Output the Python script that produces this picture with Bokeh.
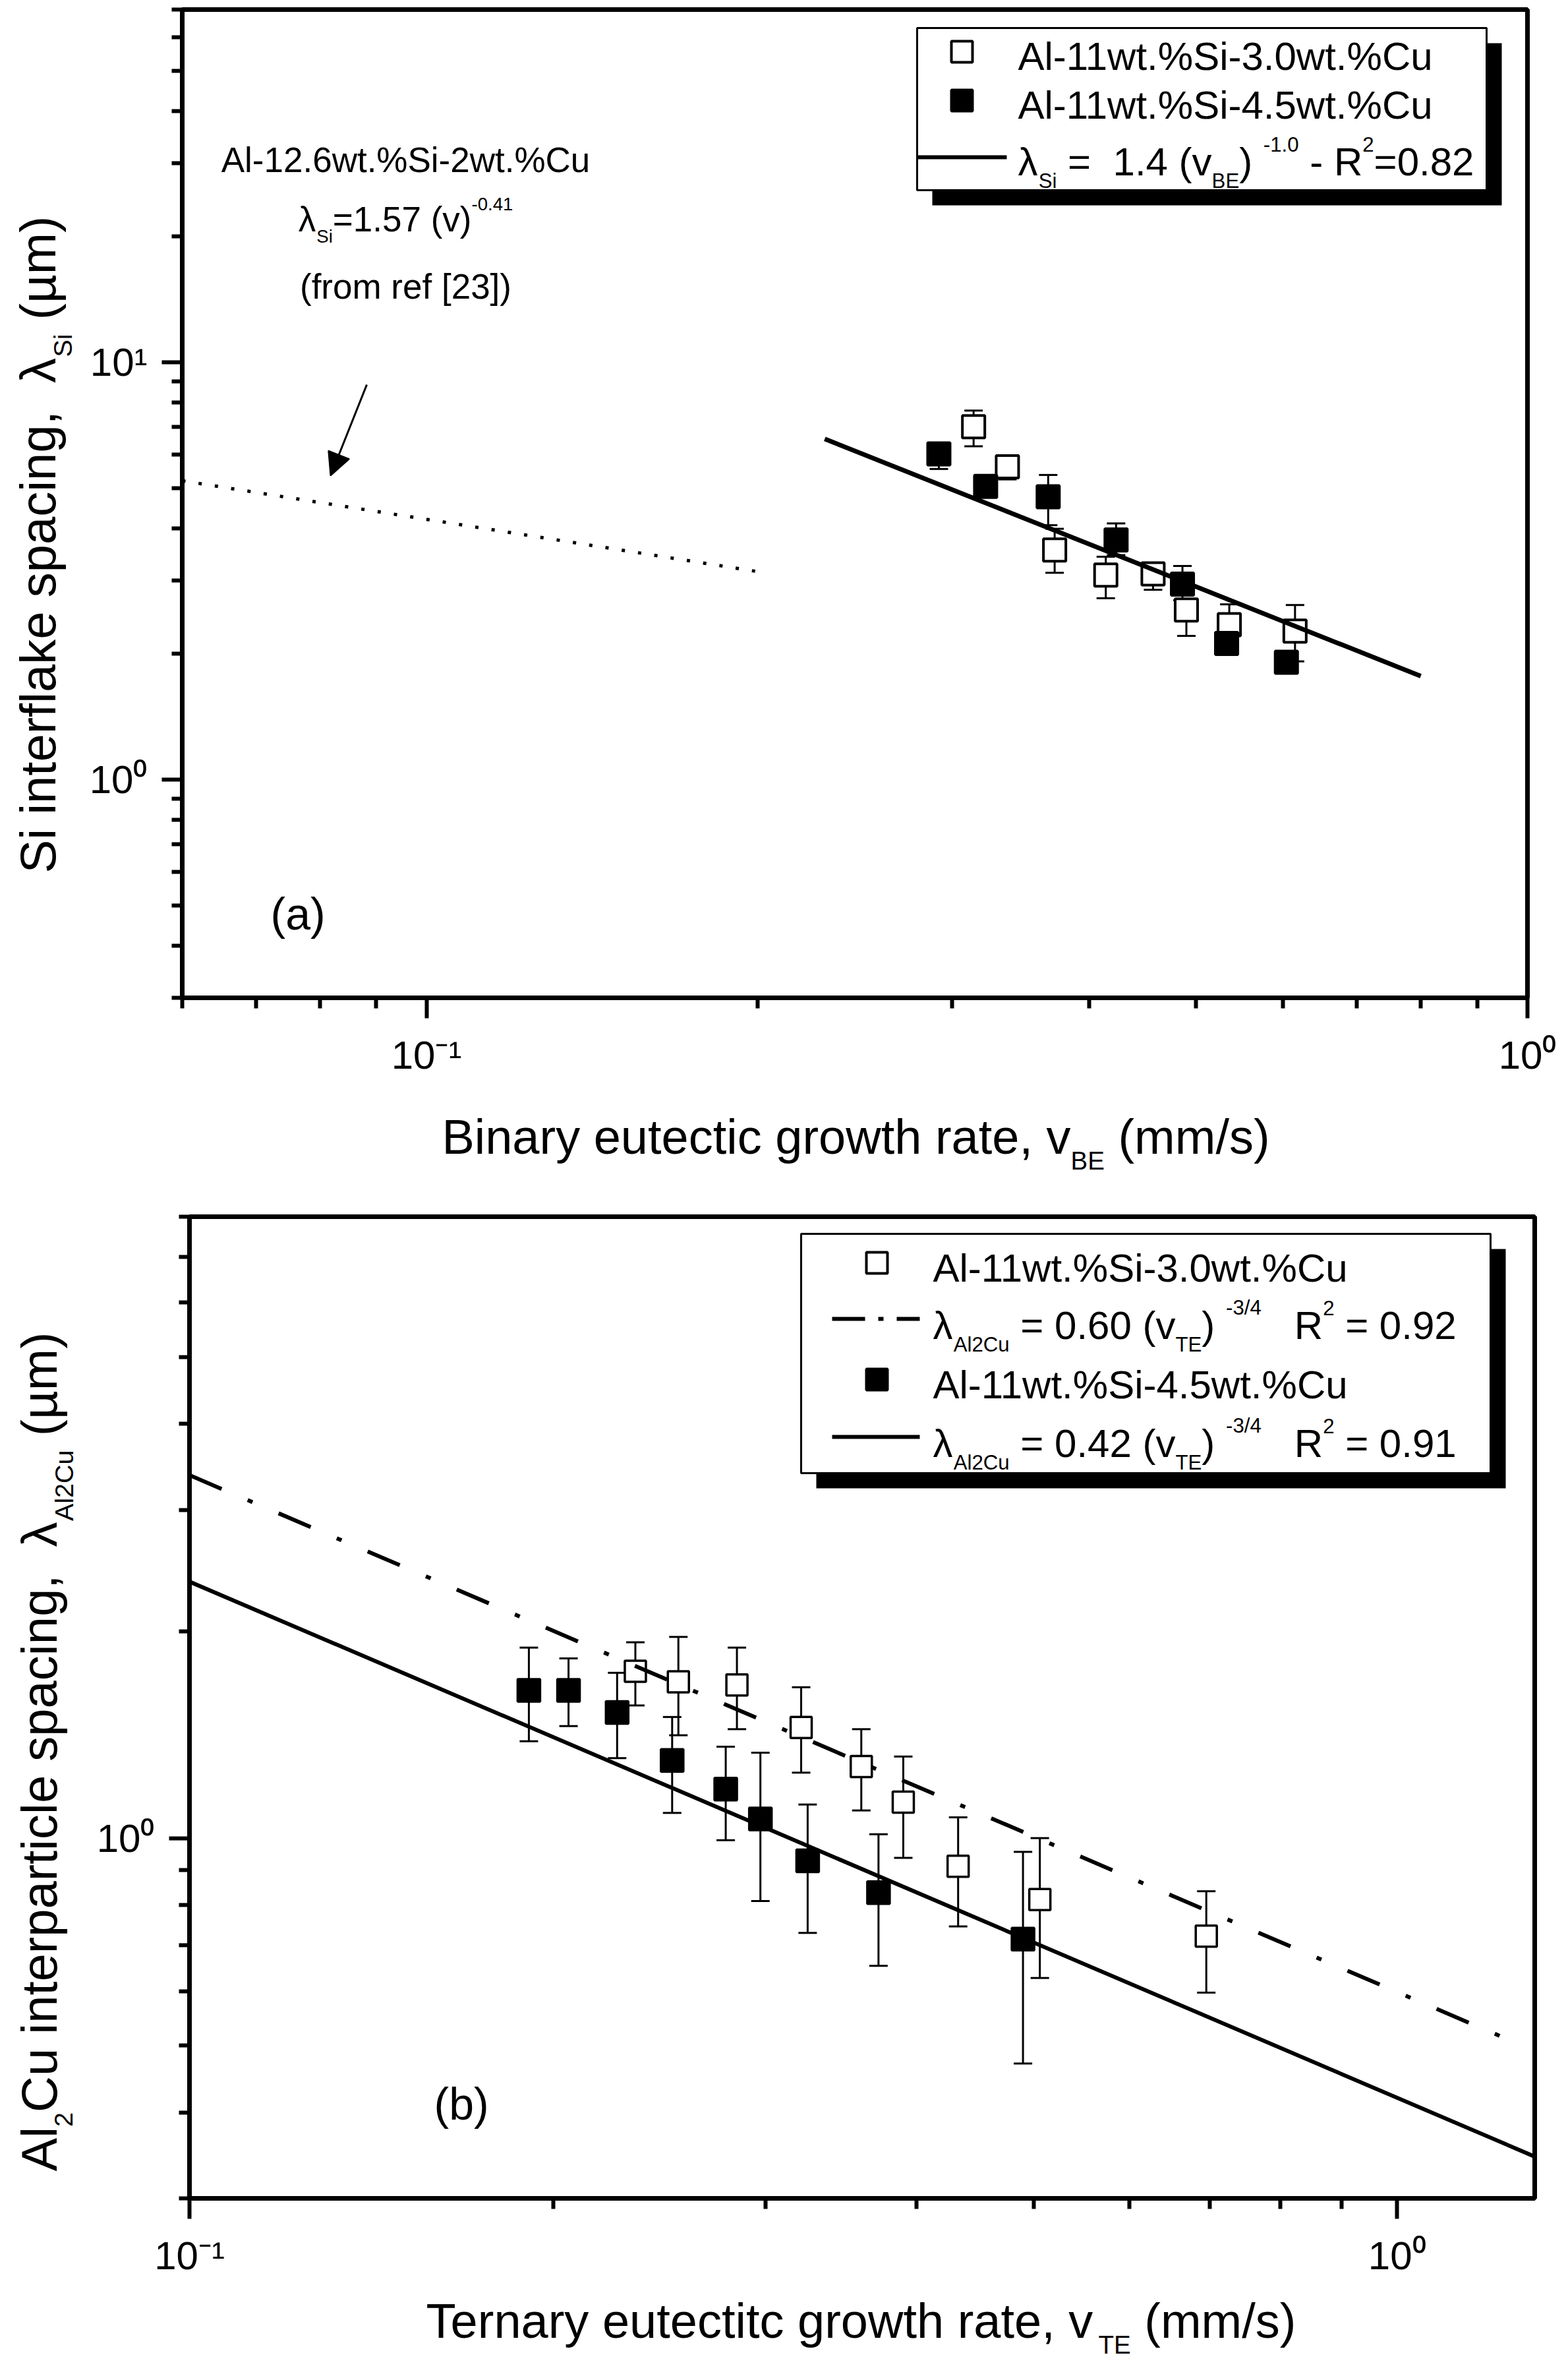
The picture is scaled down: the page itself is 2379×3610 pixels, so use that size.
import math
import re
from bokeh.plotting import figure
from bokeh.models import Range1d, FixedTicker, Label, Arrow, NormalHead
from bokeh.layouts import column, row
from bokeh.embed import file_html
from bokeh.resources import INLINE

# ---------------- data ----------------
# panel (a): Si interflake spacing vs binary eutectic growth rate
a_open_x = [0.314, 0.337, 0.372, 0.414, 0.457, 0.490, 0.536, 0.615]
a_open_y = [7.01, 5.62, 3.55, 3.09, 3.11, 2.55, 2.35, 2.27]
a_open_lo = [6.29, 5.24, 3.13, 2.72, 2.85, 2.21, 2.00, 1.92]
a_open_hi = [7.66, 5.89, 3.99, 3.42, 3.31, 2.69, 2.63, 2.62]

a_fill_x = [0.292, 0.322, 0.367, 0.423, 0.486, 0.533, 0.604]
a_fill_y = [6.03, 5.04, 4.76, 3.75, 2.94, 2.12, 1.91]
a_fill_lo = [5.55, 4.76, 4.07, 3.45, 2.69, 2.00, 1.80]
a_fill_hi = [6.40, 5.32, 5.37, 4.11, 3.25, 2.22, 2.02]

a_fit_x = [0.23, 0.80]
a_fit_y = [6.55, 1.77]
a_ref_x = [0.06, 0.20]
a_ref_y = [5.2, 3.15]

# panel (b): Al2Cu interparticle spacing vs ternary eutectic growth rate
b_open_x = [0.234, 0.254, 0.284, 0.321, 0.360, 0.390, 0.433, 0.506, 0.695]
b_open_y = [1.749, 1.688, 1.671, 1.449, 1.272, 1.129, 0.911, 0.815, 0.721]
b_open_lo = [1.560, 1.412, 1.441, 1.246, 1.098, 0.937, 0.745, 0.627, 0.597]
b_open_hi = [1.927, 1.962, 1.893, 1.658, 1.441, 1.315, 1.073, 1.001, 0.838]

b_fill_x = [0.191, 0.206, 0.226, 0.251, 0.278, 0.297, 0.325, 0.372, 0.490]
b_fill_y = [1.641, 1.641, 1.524, 1.298, 1.179, 1.067, 0.928, 0.834, 0.714]
b_fill_lo = [1.384, 1.456, 1.308, 1.089, 0.994, 0.811, 0.729, 0.653, 0.471]
b_fill_hi = [1.893, 1.826, 1.740, 1.501, 1.359, 1.332, 1.120, 1.014, 0.956]

b_fit30_x = [0.10, 1.27]
b_fit30_y = [3.37, 0.50]
b_fit45_x = [0.10, 1.30]
b_fit45_y = [2.36, 0.345]

# axis ranges and ticks
a_xr = (0.06, 1.0)
a_yr = (0.3, 70.0)
a_xmajor = [0.1, 1.0]
a_xminor = [0.06, 0.07, 0.08, 0.09, 0.2, 0.3, 0.4, 0.5, 0.6, 0.7, 0.8, 0.9]
a_ymajor = [1.0, 10.0]
a_yminor = [0.3, 0.4, 0.5, 0.6, 0.7, 0.8, 0.9, 2, 3, 4, 5, 6, 7, 8, 9, 20, 30, 40, 50, 60, 70]

b_xr = (0.1, 1.3)
b_yr = (0.3, 8.0)
b_xmajor = [0.1, 1.0]
b_xminor = [0.2, 0.3, 0.4, 0.5, 0.6, 0.7, 0.8, 0.9]
b_ymajor = [1.0]
b_yminor = [0.3, 0.4, 0.5, 0.6, 0.7, 0.8, 0.9, 2, 3, 4, 5, 6, 7, 8]

tick_names = {0.1: "10\u207b\u00b9", 1.0: "10\u2070", 10.0: "10\u00b9"}

FONT = "Liberation Sans"
BASE_FIX = 0.22   # em: lift labels so the alphabetic baseline lands where intended

# Arial / Liberation Sans advance widths (1/1000 em)
W = {' ': 278, '!': 278, '%': 889, '(': 333, ')': 333, ',': 278, '-': 333, '.': 278,
     '/': 278, '=': 584, '[': 278, ']': 278, 'A': 667, 'B': 667, 'C': 722, 'E': 667,
     'R': 722, 'S': 667, 'T': 611, 'a': 556, 'b': 556, 'c': 500, 'd': 556, 'e': 556,
     'f': 278, 'g': 556, 'h': 556, 'i': 222, 'k': 500, 'l': 222, 'm': 833, 'n': 556,
     'o': 556, 'p': 556, 'r': 333, 's': 500, 't': 278, 'u': 556, 'v': 500, 'w': 722,
     'x': 500, 'y': 500, '\u03bb': 520, '\u00b5': 576}
for _d in "0123456789":
    W[_d] = 556


def tw(s):
    return sum(W.get(c, 556) for c in s) / 1000.0


class Panel:
    """maps page pixels to data values of a log-log plot frame"""
    def __init__(self, fl, ft, fw, fh, xr, yr):
        self.fl, self.ft, self.fw, self.fh = fl, ft, fw, fh
        self.lx0, self.lx1 = math.log10(xr[0]), math.log10(xr[1])
        self.ly0, self.ly1 = math.log10(yr[0]), math.log10(yr[1])

    def to_data(self, X, Y):
        x = 10 ** (self.lx0 + (X - self.fl) / self.fw * (self.lx1 - self.lx0))
        y = 10 ** (self.ly1 - (Y - self.ft) / self.fh * (self.ly1 - self.ly0))
        return x, y


class Sheet:
    """text canvas whose data coordinates are page pixels"""
    def to_data(self, X, Y):
        return X, Y


SHEET = Sheet()


def rich(p, P, X, Y, segs, size, align="left", angle=0.0):
    ratio = 0.52
    items = []
    total = 0.0
    for t, m in segs:
        fs = size if m == "n" else size * ratio
        items.append((t, m, fs, total))
        total += tw(t) * fs
    off = {"left": 0.0, "center": -total / 2.0, "right": -total}[align]
    for t, m, fs, a in items:
        d = 0.0 if m == "n" else (0.38 * size if m == "sub" else -0.55 * size)
        d -= BASE_FIX * fs
        pos = 0.0
        # split only at runs of 2+ spaces (single inner spaces are kept in the text)
        for chunk in re.split(r"( {2,})", t):
            if chunk == "":
                continue
            lead = len(chunk) - len(chunk.lstrip(" "))
            core = chunk.strip(" ")
            trail = len(chunk) - lead - len(core)
            pos += tw(" " * lead) * fs
            if core:
                along = off + a + pos
                if angle == 0.0:
                    px, py = X + along, Y + d
                else:
                    px, py = X + d, Y - along
                x, y = P.to_data(px, py)
                p.add_layout(Label(x=x, y=y, text=core, angle=angle, angle_units="rad",
                                   text_font=FONT, text_font_size=f"{fs:.1f}px",
                                   text_align="left", text_baseline="alphabetic",
                                   text_color="black"))
                pos += tw(core) * fs
            pos += tw(" " * trail) * fs


def style(p, xmaj, xmin, ymaj, ymin):
    p.xaxis.ticker = FixedTicker(ticks=xmaj, minor_ticks=xmin)
    p.yaxis.ticker = FixedTicker(ticks=ymaj, minor_ticks=ymin)
    p.xaxis.major_label_overrides = {k: tick_names[k] for k in xmaj}
    p.yaxis.major_label_overrides = {k: tick_names[k] for k in ymaj}
    for ax in (p.xaxis, p.yaxis):
        ax.axis_line_width = 7
        ax.axis_line_color = "black"
        ax.major_tick_line_width = 6
        ax.minor_tick_line_width = 6
        ax.major_tick_line_color = "black"
        ax.minor_tick_line_color = "black"
        ax.major_tick_out = 31
        ax.major_tick_in = 0
        ax.minor_tick_out = 16
        ax.minor_tick_in = 0
        ax.major_label_text_font = FONT
        ax.major_label_text_font_size = "60px"
        ax.major_label_text_color = "black"
        ax.major_label_standoff = 22
    p.grid.visible = False
    p.outline_line_color = "black"
    p.outline_line_width = 7
    p.outline_line_alpha = 1.0
    p.background_fill_color = "white"
    p.border_fill_color = "white"


def text_fig(x0, x1, y0, y1, left=0, right=0):
    """blank canvas for axis titles; frame spans page pixels x0..x1, y0..y1"""
    f = figure(frame_width=int(x1 - x0), frame_height=int(y1 - y0),
               min_border_left=left, min_border_right=right,
               min_border_top=0, min_border_bottom=0,
               x_range=Range1d(x0, x1), y_range=Range1d(y1, y0),
               x_axis_location=None, y_axis_location=None,
               output_backend="svg", toolbar_location=None)
    f.grid.visible = False
    f.outline_line_color = None
    f.background_fill_color = "white"
    f.border_fill_color = "white"
    return f


def errorbars(p, xs, lo, hi, cap=28, lw=3):
    p.segment(x0=xs, y0=lo, x1=xs, y1=hi, line_color="black", line_width=lw)
    p.scatter(xs, lo, marker="dash", size=cap, line_color="black", line_width=lw)
    p.scatter(xs, hi, marker="dash", size=cap, line_color="black", line_width=lw)


def legend_box(p, P, X0, Y0, X1, Y1, sh=23):
    l, t = P.to_data(X0, Y0)
    r, b = P.to_data(X1, Y1)
    ls, ts = P.to_data(X0 + sh, Y0 + sh)
    rs, bs = P.to_data(X1 + sh, Y1 + sh)
    p.quad(left=[ls], right=[rs], top=[ts], bottom=[bs], fill_color="black", line_color=None)
    p.quad(left=[l], right=[r], top=[t], bottom=[b], fill_color="white",
           line_color="black", line_width=3)


def legend_marker(p, P, X, Y, filled, size=32):
    x, y = P.to_data(X, Y)
    p.scatter([x], [y], marker="square", size=size, line_color="black", line_width=4,
              fill_color="black" if filled else "white")


def legend_line(p, P, X0, X1, Y, dash="solid", lw=6):
    x0, y = P.to_data(X0, Y)
    x1, _ = P.to_data(X1, Y)
    p.line([x0, x1], [y, y], line_color="black", line_width=lw, line_dash=dash)


# ---------------- panel (a) ----------------
PA = Panel(284, 22, 2041, 1499, a_xr, a_yr)
p1 = figure(x_axis_type="log", y_axis_type="log",
            x_range=Range1d(*a_xr), y_range=Range1d(*a_yr),
            frame_width=2041, frame_height=1499,
            min_border_left=154, min_border_right=46, min_border_top=14, min_border_bottom=144,
            output_backend="svg", toolbar_location=None)
style(p1, a_xmajor, a_xminor, a_ymajor, a_yminor)

p1.line(a_ref_x, a_ref_y, line_color="black", line_width=5, line_dash="5 20")
errorbars(p1, a_open_x, a_open_lo, a_open_hi)
errorbars(p1, a_fill_x, a_fill_lo, a_fill_hi)
p1.scatter(a_open_x, a_open_y, marker="square", size=34, fill_color="white",
           line_color="black", line_width=4)
p1.scatter(a_fill_x, a_fill_y, marker="square", size=34, fill_color="black",
           line_color="black", line_width=4)
p1.line(a_fit_x, a_fit_y, line_color="black", line_width=7)

legend_box(p1, PA, 1399, 50, 2263, 296)
legend_marker(p1, PA, 1467, 86, False)
legend_marker(p1, PA, 1467, 160, True)
legend_line(p1, PA, 1399, 1535, 246)
rich(p1, PA, 1552, 106, [("Al-11wt.%Si-3.0wt.%Cu", "n")], 60)
rich(p1, PA, 1552, 180, [("Al-11wt.%Si-4.5wt.%Cu", "n")], 60)
rich(p1, PA, 1552, 266, [("\u03bb", "n"), ("Si", "sub"), (" =  1.4 (v", "n"), ("BE", "sub"),
                         (")", "n"), (" ", "n"), ("-1.0", "sup"), (" - R", "n"), ("2", "sup"),
                         ("=0.82", "n")], 60)

rich(p1, PA, 623, 262, [("Al-12.6wt.%Si-2wt.%Cu", "n")], 53, align="center")
rich(p1, PA, 623, 352, [("\u03bb", "n"), ("Si", "sub"), ("=1.57 (v)", "n"), ("-0.41", "sup")],
     53, align="center")
rich(p1, PA, 623, 454, [("(from ref [23])", "n")], 53, align="center")

ax0, ay0 = PA.to_data(564, 591)
ax1, ay1 = PA.to_data(509, 729)
p1.add_layout(Arrow(x_start=ax0, y_start=ay0, x_end=ax1, y_end=ay1, line_width=3,
                    line_color="black",
                    end=NormalHead(size=34, fill_color="black", line_color="black", line_width=2)))

rich(p1, PA, 418, 1408, [("(a)", "n")], 68)

# axis titles of panel (a) on their own text canvases
yl1 = text_fig(8, 130, 8, 1800)
rich(yl1, SHEET, 82, 1332, [("Si interflake spacing,", "n"), ("  \u03bb", "n"), ("Si", "sub"),
                            (" (\u00b5m)", "n")], 76, angle=math.pi / 2)
xl1 = text_fig(284, 2325, 1665, 1800, left=154, right=46)
rich(xl1, SHEET, 1306, 1748, [("Binary eutectic growth rate, v", "n"), ("BE", "sub"),
                              (" (mm/s)", "n")], 74, align="center")

# ---------------- panel (b) ----------------
PB = Panel(295, 1853, 2041, 1489, b_xr, b_yr)
p2 = figure(x_axis_type="log", y_axis_type="log",
            x_range=Range1d(*b_xr), y_range=Range1d(*b_yr),
            frame_width=2041, frame_height=1489,
            min_border_left=165, min_border_right=30, min_border_top=53, min_border_bottom=133,
            output_backend="svg", toolbar_location=None)
style(p2, b_xmajor, b_xminor, b_ymajor, b_yminor)

errorbars(p2, b_open_x, b_open_lo, b_open_hi)
errorbars(p2, b_fill_x, b_fill_lo, b_fill_hi)
p2.scatter(b_open_x, b_open_y, marker="square", size=32, fill_color="white",
           line_color="black", line_width=3.5)
p2.scatter(b_fill_x, b_fill_y, marker="square", size=34, fill_color="black",
           line_color="black", line_width=3.5)
p2.line(b_fit30_x, b_fit30_y, line_color="black", line_width=6, line_dash="53 43 8 43")
p2.line(b_fit45_x, b_fit45_y, line_color="black", line_width=6)

legend_box(p2, PB, 1223, 1879, 2269, 2242)
legend_marker(p2, PB, 1338, 1923, False)
legend_line(p2, PB, 1270, 1403, 2008, dash="50 20 8 20")
legend_marker(p2, PB, 1338, 2100, True)
legend_line(p2, PB, 1270, 1403, 2187, lw=6)
rich(p2, PB, 1423, 1944, [("Al-11wt.%Si-3.0wt.%Cu", "n")], 60)
rich(p2, PB, 1423, 2031, [("\u03bb", "n"), ("Al2Cu", "sub"), (" = 0.60 (v", "n"), ("TE", "sub"),
                          (")", "n"), (" ", "n"), ("-3/4", "sup"), ("   R", "n"), ("2", "sup"),
                          (" = 0.92", "n")], 60)
rich(p2, PB, 1423, 2121, [("Al-11wt.%Si-4.5wt.%Cu", "n")], 60)
rich(p2, PB, 1423, 2210, [("\u03bb", "n"), ("Al2Cu", "sub"), (" = 0.42 (v", "n"), ("TE", "sub"),
                          (")", "n"), (" ", "n"), ("-3/4", "sup"), ("   R", "n"), ("2", "sup"),
                          (" = 0.91", "n")], 60)

rich(p2, PB, 666, 3213, [("(b)", "n")], 68)

yl2 = text_fig(8, 130, 1800, 3590)
rich(yl2, SHEET, 84, 3301, [("Al", "n"), ("2", "sub"), ("Cu interparticle spacing,", "n"),
                            ("  \u03bb", "n"), ("Al2Cu", "sub"), (" (\u00b5m)", "n")], 76,
     angle=math.pi / 2)
xl2 = text_fig(295, 2336, 3475, 3590, left=165, right=30)
rich(xl2, SHEET, 1314, 3544, [("Ternary eutectitc growth rate, v", "n"), ("TE", "sub"),
                              (" (mm/s)", "n")], 74, align="center")

rowA = row(yl1, column(p1, xl1, spacing=0), spacing=0)
rowB = row(yl2, column(p2, xl2, spacing=0), spacing=0)
layout = column(rowA, rowB, spacing=0)
open("out.html", "w").write(file_html(layout, INLINE))
